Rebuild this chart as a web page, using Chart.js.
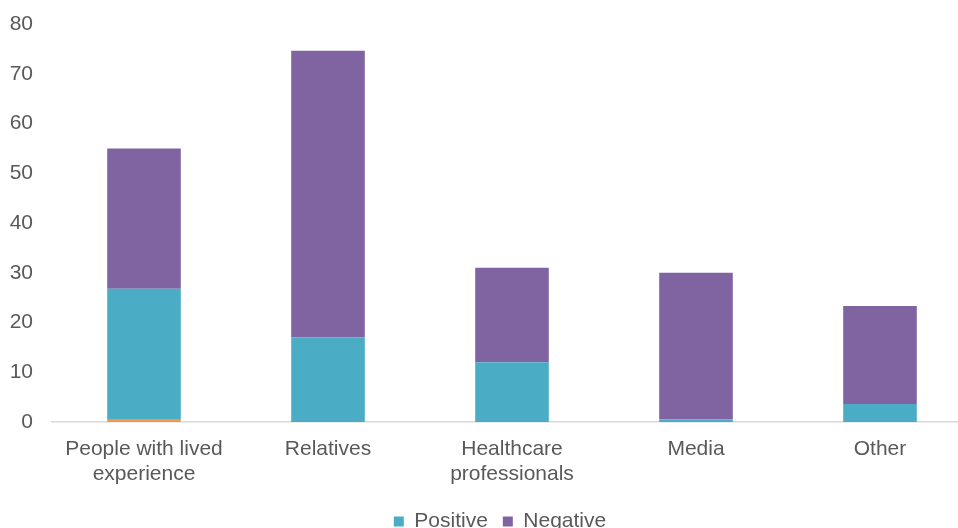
<!DOCTYPE html>
<html>
<head>
<meta charset="utf-8">
<script src="https://cdn.jsdelivr.net/npm/chart.js@4"></script>
<style>
	html, body { margin: 0; padding: 0; background: #fff; overflow: hidden; }
	#wrap { width: 980px; height: 542px; }
</style>
</head>
<body>
<div id="wrap">
	<canvas id="sourceChart" width="980" height="542"></canvas>
</div>
<script>
// categories and values
const categories = [
	["People with lived", "experience"],
	"Relatives",
	["Healthcare", "professionals"],
	"Media",
	"Other"
];
const neutralValues = [0.6, 0, 0, 0, 0];
const positiveValues = [26.2, 17, 12, 0.5, 3.6];
const negativeValues = [28.2, 57.6, 19, 29.5, 19.7];
const yTicks = [0, 10, 20, 30, 40, 50, 60, 70, 80];

const textColor = '#595959';
const fontFamily = '"Liberation Sans", Arial, sans-serif';

const ctx = document.getElementById('sourceChart').getContext('2d');

// nudge the legend a bit right, the source chart centres it on the plot
const legendShift = {
	id: 'legendShift',
	afterLayout (chart) {
		if (chart.legend) {
			chart.legend.left += 14;
			chart.legend.right += 14;
		}
	}
};

let myChart = new Chart(ctx, {
	type: 'bar',
	data: {
		labels: categories,
		datasets: [
			{
				label: 'Neutral',
				data: neutralValues,
				backgroundColor: '#F79646'
			},
			{
				label: 'Positive',
				data: positiveValues,
				backgroundColor: '#4BACC6'
			},
			{
				label: 'Negative',
				data: negativeValues,
				backgroundColor: '#8064A2'
			}
		]
	},
	plugins: [legendShift],
	options: {
		responsive: false,
		animation: false,
		layout: {
			padding: { top: 0, left: 0, right: 8, bottom: 0 }
		},
		datasets: {
			bar: {
				barPercentage: 0.4,
				categoryPercentage: 1
			}
		},
		scales: {
			x: {
				stacked: true,
				grid: { display: false, drawTicks: false },
				border: { display: true, color: '#d9d9d9', width: 1.5 },
				ticks: {
					color: textColor,
					padding: 15,
					maxRotation: 0,
					font: { family: fontFamily, size: 21, lineHeight: 1.19 }
				},
				afterFit: (scale) => { scale.height = 74; }
			},
			y: {
				stacked: true,
				min: 0,
				max: 80,
				grid: { display: false, drawTicks: false },
				border: { display: false },
				afterBuildTicks: (scale) => {
					scale.ticks = yTicks.map(v => ({ value: v }));
				},
				ticks: {
					color: textColor,
					padding: 19,
					// small lineHeight only trims the top overhang (top = 5 + 19)
					font: { family: fontFamily, size: 21, lineHeight: '10px' }
				},
				afterFit: (scale) => { scale.width = 52; }
			}
		},
		plugins: {
			title: { display: false },
			tooltip: { enabled: false },
			legend: {
				position: 'bottom',
				labels: {
					color: textColor,
					boxWidth: 10,
					boxHeight: 10,
					padding: 15,
					font: { family: fontFamily, size: 21 },
					// the orange sliver has no legend entry
					filter: (item) => item.text !== 'Neutral'
				}
			}
		}
	}
});
</script>
</body>
</html>
